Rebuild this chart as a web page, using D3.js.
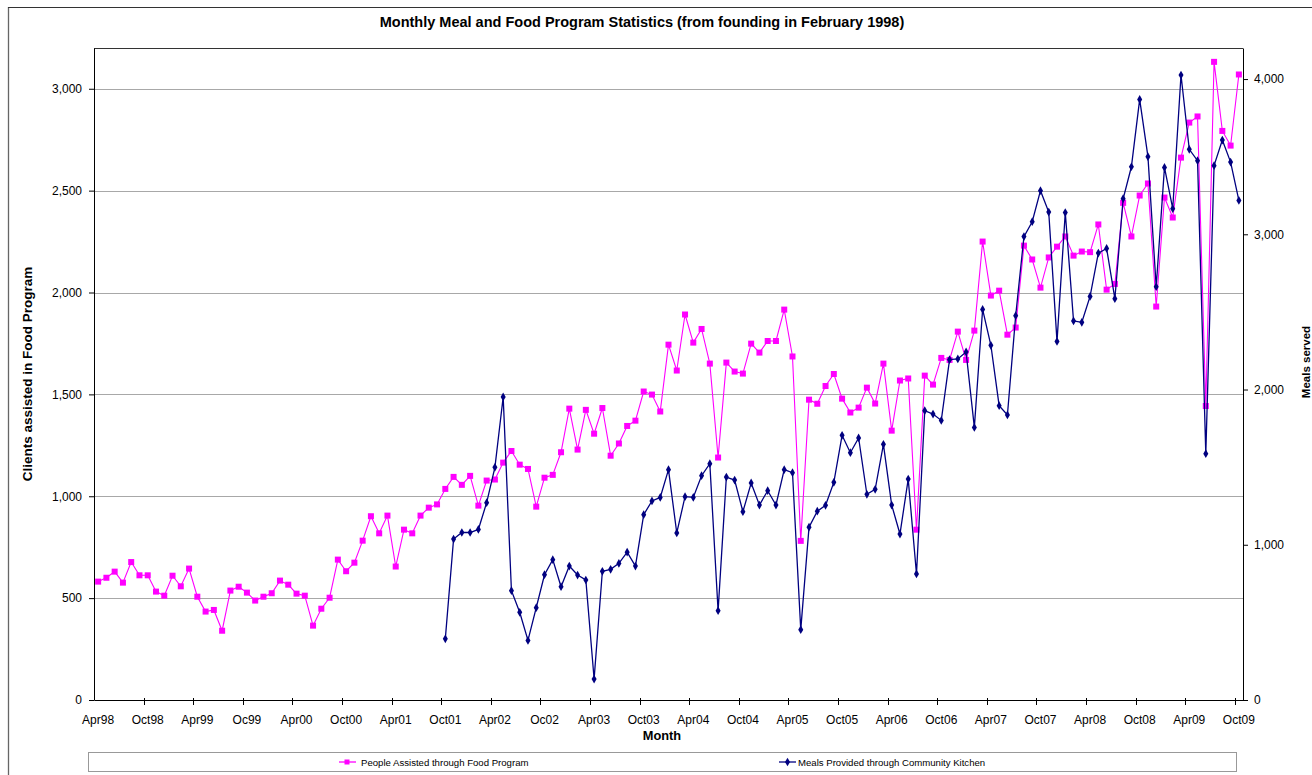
<!DOCTYPE html>
<html><head><meta charset="utf-8">
<script src="https://cdn.jsdelivr.net/npm/d3@7"></script>
<style>body{margin:0;background:#fff}svg{display:block;font-family:"Liberation Sans",Arial,sans-serif}</style>
</head><body><svg id="c" width="1312" height="775"></svg>
<script>
const categories = [
"Apr98","May98","Jun98","Jul98","Aug98","Sep98","Oct98","Nov98","Dec98",
"Jan99","Feb99","Mar99","Apr99","May99","Jun99","Jul99","Aug99","Sep99","Oc99","Nov99","Dec99",
"Jan00","Feb00","Mar00","Apr00","May00","Jun00","Jul00","Aug00","Sep00","Oct00","Nov00","Dec00",
"Jan01","Feb01","Mar01","Apr01","May01","Jun01","Jul01","Aug01","Sep01","Oct01","Nov01","Dec01",
"Jan02","Feb02","Mar02","Apr02","May02","Jun02","Jul02","Aug02","Sep02","Oc02","Nov02","Dec02",
"Jan03","Feb03","Mar03","Apr03","May03","Jun03","Jul03","Aug03","Sep03","Oct03","Nov03","Dec03",
"Jan04","Feb04","Mar04","Apr04","May04","Jun04","Jul04","Aug04","Sep04","Oct04","Nov04","Dec04",
"Jan05","Feb05","Mar05","Apr05","May05","Jun05","Jul05","Aug05","Sep05","Oct05","Nov05","Dec05",
"Jan06","Feb06","Mar06","Apr06","May06","Jun06","Jul06","Aug06","Sep06","Oct06","Nov06","Dec06",
"Jan07","Feb07","Mar07","Apr07","May07","Jun07","Jul07","Aug07","Sep07","Oct07","Nov07","Dec07",
"Jan08","Feb08","Mar08","Apr08","May08","Jun08","Jul08","Aug08","Sep08","Oct08","Nov08","Dec08",
"Jan09","Feb09","Mar09","Apr09","May09","Jun09","Jul09","Aug09","Sep09","Oct09"];

const tickLabels = ["Apr98","Oct98","Apr99","Oc99","Apr00","Oct00","Apr01","Oct01","Apr02","Oc02","Apr03","Oct03",
"Apr04","Oct04","Apr05","Oct05","Apr06","Oct06","Apr07","Oct07","Apr08","Oct08","Apr09","Oct09"];

const peopleAssisted = [
581,600,630,576,677,612,612,532,512,
610,558,645,507,434,442,340,537,556,527,488,507,
524,586,566,522,512,365,448,502,689,632,674,782,
902,818,905,655,836,818,905,944,960,1036,1095,1056,
1100,954,1077,1082,1165,1222,1155,1134,949,1091,1105,1216,
1430,1229,1424,1307,1433,1199,1259,1345,1371,1514,1499,1416,
1744,1617,1892,1754,1821,1651,1190,1656,1612,1602,1749,1705,
1762,1762,1916,1686,781,1474,1454,1541,1600,1479,1411,1435,
1533,1455,1651,1322,1568,1578,836,1592,1548,1679,1669,1808,
1669,1813,2250,1985,2009,1793,1828,2230,2162,2024,2172,2225,
2275,2181,2201,2198,2334,2014,2042,2440,2275,2476,2535,1931,
2466,2368,2662,2834,2864,1443,3132,2793,2721,3070];

const mealsProvided = [
null,null,null,null,null,null,null,null,null,
null,null,null,null,null,null,null,null,null,null,null,null,
null,null,null,null,null,null,null,null,null,null,null,null,
null,null,null,null,null,null,null,null,null,394,1037,1079,
1079,1099,1271,1499,1952,704,565,384,595,807,904,730,
863,805,773,135,829,842,880,952,863,1194,1282,1305,
1484,1076,1310,1305,1445,1522,575,1436,1417,1213,1398,1256,
1348,1256,1484,1464,453,1113,1216,1254,1402,1705,1593,1688,
1325,1357,1647,1256,1069,1423,812,1864,1842,1801,2192,2197,
2242,1756,2516,2285,1896,1836,2476,2985,3081,3281,3143,2310,
3140,2442,2433,2600,2879,2909,2585,3229,3435,3869,3500,2662,
3431,3165,4026,3547,3474,1587,3442,3607,3465,3218];

const leftTicks = [0,500,1000,1500,2000,2500,3000];
const rightTicks = [0,1000,2000,3000,4000];

const svg = d3.select("#c");
const L = 94, R = 1243, T = 48, B = 700;

const x = d3.scaleBand().domain(categories).range([L, R]).padding(0);
const yL = d3.scaleLinear().domain([0, 3200]).range([B, T]);
const yR = d3.scaleLinear().domain([0, 4200]).range([B, T]);
const cx = c => x(c) + x.bandwidth() / 2;

// outer chart border
svg.append("line").attr("x1",8.5).attr("x2",8.5).attr("y1",7).attr("y2",775).attr("stroke","#666").attr("stroke-width",1.3);
svg.append("line").attr("x1",8).attr("x2",1312).attr("y1",7.5).attr("y2",7.5).attr("stroke","#333").attr("stroke-width",1);

// gridlines
svg.append("g").selectAll("line").data(leftTicks.filter(d => d > 0)).join("line")
  .attr("x1", L).attr("x2", R)
  .attr("y1", d => Math.round(yL(d)) + 0.5).attr("y2", d => Math.round(yL(d)) + 0.5)
  .attr("stroke", "#a8a8a8").attr("stroke-width", 1);

// plot top border
svg.append("line").attr("x1",L).attr("x2",R).attr("y1",T+0.5).attr("y2",T+0.5).attr("stroke","#333");

// left axis
const gL = svg.append("g").attr("transform", `translate(${L},0)`)
  .call(d3.axisLeft(yL).tickValues(leftTicks).tickFormat(d3.format(",")).tickSize(5).tickSizeOuter(0).tickPadding(7));
// right axis
const gR = svg.append("g").attr("transform", `translate(${R},0)`)
  .call(d3.axisRight(yR).tickValues(rightTicks).tickFormat(d3.format(",")).tickSize(5).tickSizeOuter(0).tickPadding(6));
[gL, gR].forEach(g => {
  g.selectAll("text").attr("font-size", "12px").attr("fill", "#000").attr("font-family", '"Liberation Sans",Arial,sans-serif');
  g.selectAll("line").attr("stroke", "#000");
  g.select(".domain").attr("stroke", "#000");
});

// bottom axis: labels at category centres, ticks at category boundaries
const gX = svg.append("g").attr("transform", `translate(0,${B})`)
  .call(d3.axisBottom(x).tickValues(tickLabels).tickSize(0).tickSizeOuter(0).tickPadding(15.5));
gX.selectAll("text").attr("font-size", "12px").attr("fill", "#000").attr("font-family", '"Liberation Sans",Arial,sans-serif');
gX.select(".domain").attr("stroke", "#000");
gX.append("g").selectAll("line").data(tickLabels.slice(1)).join("line")
  .attr("x1", d => Math.round(x(d)) + 0.5).attr("x2", d => Math.round(x(d)) + 0.5)
  .attr("y1", -2).attr("y2", 5).attr("stroke", "#000");

// titles
svg.append("text").attr("x", 642).attr("y", 27).attr("text-anchor", "middle")
  .attr("font-size", "14.5px").attr("font-weight", "bold")
  .text("Monthly Meal and Food Program Statistics (from founding in February 1998)");
svg.append("text").attr("transform", "translate(32,374) rotate(-90)").attr("text-anchor", "middle")
  .attr("font-size", "13.5px").attr("font-weight", "bold").text("Clients assisted in Food Program");
svg.append("text").attr("transform", "translate(1310,362) rotate(-90)").attr("text-anchor", "middle")
  .attr("font-size", "11.5px").attr("font-weight", "bold").text("Meals served");
svg.append("text").attr("x", 662).attr("y", 739.5).attr("text-anchor", "middle")
  .attr("font-size", "12.8px").attr("font-weight", "bold").text("Month");

// series
const pData = categories.map((c, i) => ({c, v: peopleAssisted[i]}));
const mData = categories.map((c, i) => ({c, v: mealsProvided[i]}));

svg.append("path").datum(pData)
  .attr("fill", "none").attr("stroke", "#FF00FF").attr("stroke-width", 1.1)
  .attr("d", d3.line().x(d => cx(d.c)).y(d => yL(d.v)));
svg.append("g").selectAll("rect").data(pData).join("rect")
  .attr("x", d => cx(d.c) - 3).attr("y", d => yL(d.v) - 3)
  .attr("width", 6).attr("height", 6).attr("fill", "#FF00FF");

const mDef = mData.filter(d => d.v != null);
svg.append("path").datum(mData)
  .attr("fill", "none").attr("stroke", "#000080").attr("stroke-width", 1.3)
  .attr("d", d3.line().defined(d => d.v != null).x(d => cx(d.c)).y(d => yR(d.v)));
const diamond = d3.symbol().type(d3.symbolDiamond).size(22);
svg.append("g").selectAll("path").data(mDef).join("path")
  .attr("transform", d => `translate(${cx(d.c)},${yR(d.v)})`)
  .attr("d", diamond).attr("fill", "#000080");

// legend
svg.append("rect").attr("x", 88.5).attr("y", 752.5).attr("width", 1148).attr("height", 19)
  .attr("fill", "#fff").attr("stroke", "#999");
const lg = svg.append("g");
lg.append("line").attr("x1", 339).attr("x2", 356).attr("y1", 762).attr("y2", 762).attr("stroke", "#FF00FF").attr("stroke-width", 1.3);
lg.append("rect").attr("x", 344.5).attr("y", 759.5).attr("width", 5).attr("height", 5).attr("fill", "#FF00FF");
lg.append("text").attr("x", 361).attr("y", 765.5).attr("font-size", "9.6px").text("People Assisted through Food Program");
lg.append("line").attr("x1", 779).attr("x2", 796).attr("y1", 762).attr("y2", 762).attr("stroke", "#000080").attr("stroke-width", 1.3);
lg.append("path").attr("transform", "translate(787.5,762)").attr("d", diamond).attr("fill", "#000080");
lg.append("text").attr("x", 798).attr("y", 765.5).attr("font-size", "9.6px").text("Meals Provided through Community Kitchen");
</script></body></html>
